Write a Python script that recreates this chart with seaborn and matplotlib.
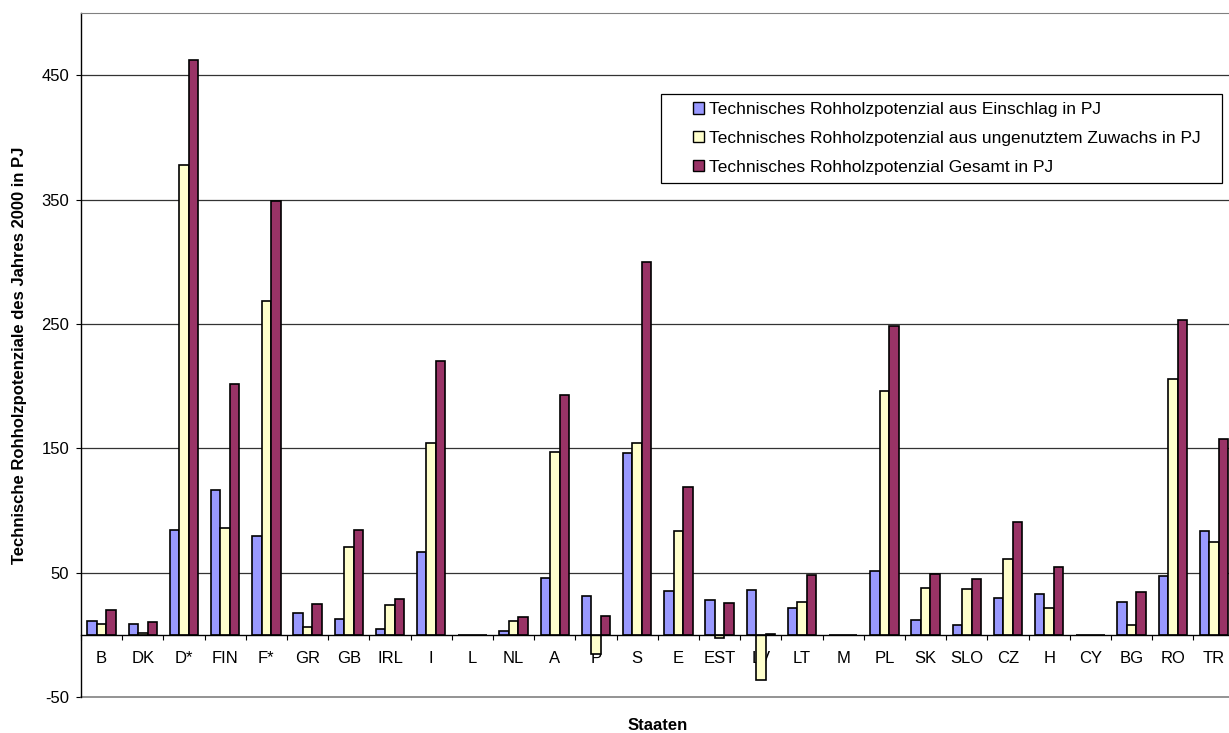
import matplotlib
matplotlib.use("Agg")
import matplotlib.pyplot as plt
from matplotlib.patches import Patch, Rectangle
import numpy as np
import pandas as pd
import seaborn as sns

# Countries (category axis)
countries = ["B", "DK", "D*", "FIN", "F*", "GR", "GB", "IRL", "I", "L", "NL", "A", "P", "S",
             "E", "EST", "LV", "LT", "M", "PL", "SK", "SLO", "CZ", "H", "CY", "BG", "RO", "TR"]

# Technical raw-wood potential in PJ
einschlag = [11.4, 8.3, 84.6, 116.4, 79.3, 17.6, 12.7, 4.4, 66.3, 0.0, 2.8, 45.6, 31.0, 146.4,
             35.6, 28.1, 36.2, 21.4, 0.0, 51.7, 11.7, 8.2, 29.4, 32.7, 0.0, 26.5, 46.9, 83.2]
zuwachs = [8.3, 1.5, 377.5, 85.5, 268.8, 6.5, 71.0, 24.0, 154.4, 0.0, 10.9, 146.9, -15.5, 153.9,
           83.2, -2.3, -36.0, 26.7, 0.0, 196.4, 37.5, 37.0, 60.6, 21.4, 0.0, 8.2, 205.8, 74.3]
gesamt = [19.8, 10.2, 462.0, 202.0, 348.5, 24.7, 84.3, 28.4, 220.0, 0.0, 14.1, 192.6, 15.5, 300.0,
          118.7, 25.9, 0.6, 48.3, 0.0, 248.0, 49.0, 45.0, 90.5, 54.2, 0.0, 34.8, 253.0, 157.4]

series = ["Technisches Rohholzpotenzial aus Einschlag in PJ",
          "Technisches Rohholzpotenzial aus ungenutztem Zuwachs in PJ",
          "Technisches Rohholzpotenzial Gesamt in PJ"]
colors = ["#9999FF", "#FFFFCC", "#993366"]

yticks = [-50, 50, 150, 250, 350, 450]

df = pd.DataFrame({"Staat": countries, series[0]: einschlag,
                   series[1]: zuwachs, series[2]: gesamt})
long = df.melt(id_vars="Staat", var_name="Reihe", value_name="PJ")

sns.set_style("white")
plt.rcParams["font.family"] = ["Liberation Sans", "DejaVu Sans"]
plt.rcParams.update({"text.color": "black", "axes.labelcolor": "black",
                     "xtick.color": "black", "ytick.color": "black"})

W, H = 1229, 733
fig = plt.figure(figsize=(W / 100, H / 100), dpi=100)
# plot area: left edge 81 px, top 13 px, bottom 697 px, runs past the right border
ax_l, ax_t, ax_b, ax_w = 81, 13, 697, 1153.6
ax = fig.add_axes([ax_l / W, (H - ax_b) / H, ax_w / W, (ax_b - ax_t) / H])

sns.barplot(data=long, x="Staat", y="PJ", hue="Reihe", order=countries, hue_order=series,
            palette=colors, saturation=1, width=0.688, gap=0, edgecolor="black",
            linewidth=1.2, errorbar=None, legend=False, ax=ax)

ax.set_xlim(-0.5, len(countries) - 0.5)
ax.set_ylim(-50, 500)
ax.set_axisbelow(True)

# horizontal gridlines
for v in yticks[1:]:
    ax.axhline(v, color="#333333", lw=0.9, zorder=0.5)

ax.set_yticks(yticks)
ax.set_yticklabels([str(v) for v in yticks])
ax.tick_params(axis="y", direction="out", length=3.5, width=0.8, pad=5,
               labelsize=12, color="black", left=True)

# category axis sits on the zero line
ax.spines["bottom"].set_position(("data", 0))
ax.spines["bottom"].set_color("black")
ax.spines["bottom"].set_linewidth(1.0)
ax.spines["left"].set_color("black")
ax.spines["left"].set_linewidth(1.0)
ax.spines["top"].set_color("#808080")
ax.spines["right"].set_color("#808080")
ax.plot([0, 1], [0, 0], transform=ax.transAxes, color="#808080", lw=1.2, clip_on=False)

ax.set_xticks(range(len(countries)))
ax.set_xticklabels(countries)
ax.set_xticks(np.arange(-0.5, len(countries), 1), minor=True)
ax.tick_params(axis="x", which="major", length=0, pad=12, labelsize=12, bottom=True)
ax.tick_params(axis="x", which="minor", length=3.5, width=0.8, direction="out",
               color="black", bottom=True)

ax.set_xlabel("Staaten", fontsize=12, fontweight="bold")
ax.xaxis.label.set_va("center")
ax.xaxis.set_label_coords(0.5, -(725 - ax_b) / (ax_b - ax_t))
ax.set_ylabel("Technische Rohholzpotenziale des Jahres 2000 in PJ", fontsize=12,
              fontweight="bold")
ax.yaxis.label.set_va("center")
ax.yaxis.set_label_coords(-(ax_l - 20) / ax_w, 0.5)

# legend: frame drawn separately, entries placed inside it
frame = Rectangle(((661 - ax_l) / ax_w, (ax_b - 183) / (ax_b - ax_t)),
                  (1222 - 661) / ax_w, (183 - 94) / (ax_b - ax_t),
                  transform=ax.transAxes, fill=True, facecolor="white",
                  edgecolor="black", lw=0.9, zorder=4)
ax.add_patch(frame)
handles = [Patch(facecolor=c, edgecolor="black", lw=1.0) for c in colors]
leg = ax.legend(handles, series, loc="upper left",
                bbox_to_anchor=((693 - ax_l) / ax_w, (ax_b - 102) / (ax_b - ax_t)),
                frameon=False, fontsize=12.5, borderpad=0, borderaxespad=0,
                handlelength=0.62, handleheight=0.62, handletextpad=0.3,
                labelspacing=0.8)
leg.set_zorder(5)

fig.savefig("out.png", dpi=100)
